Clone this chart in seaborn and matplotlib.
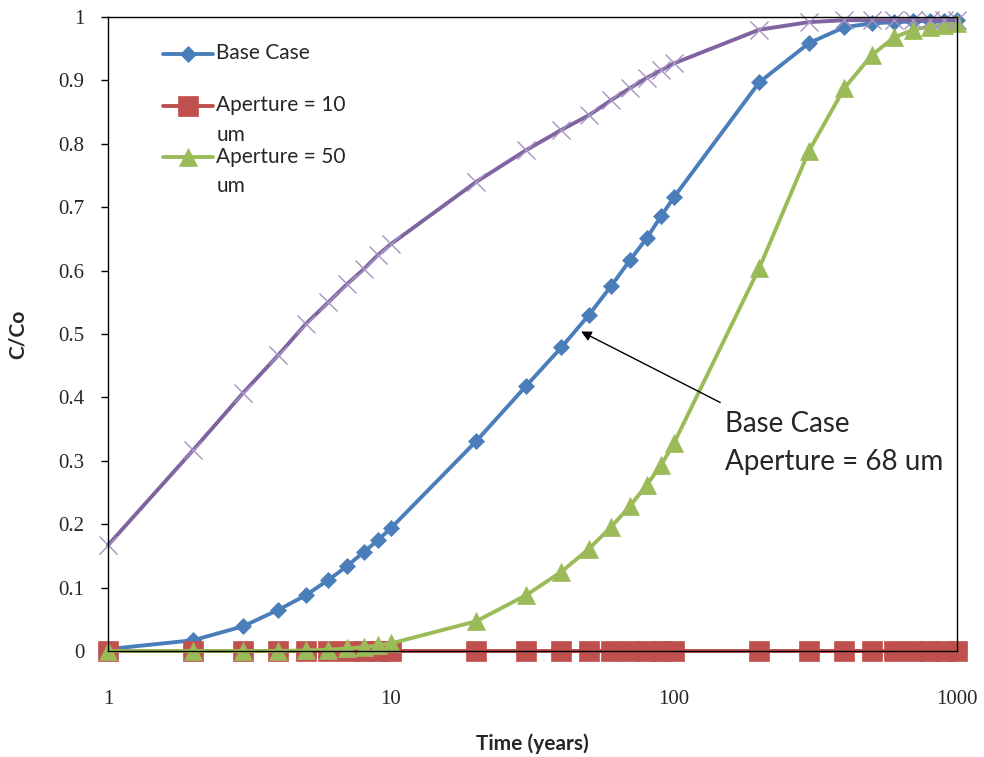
import numpy as np
import pandas as pd
import matplotlib
matplotlib.use("Agg")
import matplotlib.pyplot as plt
import matplotlib.transforms as mtransforms
from matplotlib.legend_handler import HandlerLine2D
import seaborn as sns

# time points (years)
time = [1, 2, 3, 4, 5, 6, 7, 8, 9, 10,
        20, 30, 40, 50, 60, 70, 80, 90, 100,
        200, 300, 400, 500, 600, 700, 800, 900, 1000]

base_case = [0.003, 0.017, 0.039, 0.065, 0.088, 0.112, 0.134, 0.156, 0.175, 0.194,
             0.331, 0.418, 0.479, 0.530, 0.576, 0.617, 0.651, 0.686, 0.716,
             0.897, 0.959, 0.984, 0.990, 0.992, 0.993, 0.994, 0.994, 0.995]
aperture_10 = [0.0] * 28
aperture_50 = [0.0, 0.0, 0.0, 0.0, 0.001, 0.002, 0.004, 0.006, 0.009, 0.012,
               0.047, 0.088, 0.125, 0.161, 0.196, 0.229, 0.262, 0.293, 0.328,
               0.604, 0.789, 0.888, 0.940, 0.968, 0.980, 0.985, 0.988, 0.990]
unlabeled = [0.167, 0.317, 0.407, 0.467, 0.516, 0.550, 0.579, 0.602, 0.625, 0.642,
             0.740, 0.790, 0.822, 0.845, 0.869, 0.888, 0.904, 0.916, 0.927,
             0.980, 0.992, 0.995, 0.995, 0.995, 0.995, 0.995, 0.995, 0.995]

# legend labels wrap like the original (second line kept even when blank)
series = [
    ("Base Case\n ", base_case, "#4A7EBB", "D", 8.5),
    ("Aperture = 10\num", aperture_10, "#C0504D", "s", 14),
    ("Aperture = 50\num", aperture_50, "#9BBB59", "^", 13),
]


class TopLineHandler(HandlerLine2D):
    # put the legend symbol next to the first text line instead of the middle
    def __init__(self, dy, **kw):
        super().__init__(**kw)
        self.dy = dy

    def create_artists(self, legend, orig_handle, xdescent, ydescent,
                       width, height, fontsize, trans):
        arts = super().create_artists(legend, orig_handle, xdescent, ydescent,
                                      width, height, fontsize, trans)
        for a in arts:
            a.set_transform(mtransforms.Affine2D().translate(0, self.dy) + trans)
        return arts


sns.set_style("white")
plt.rcParams["font.family"] = ["Lato", "DejaVu Sans"]

fig = plt.figure(figsize=(9.84, 7.57), dpi=100)
ax = fig.add_axes([0.1098, 0.14, 0.8628, 0.8375])

for name, vals, color, mk, ms in series:
    df = pd.DataFrame({"t": time, "c": vals})
    sns.lineplot(data=df, x="t", y="c", ax=ax, color=color, linewidth=2.8,
                 marker=mk, markersize=ms, markeredgecolor=color,
                 markeredgewidth=0.5, label=name, clip_on=False)

df = pd.DataFrame({"t": time, "c": unlabeled})
sns.lineplot(data=df, x="t", y="c", ax=ax, color="#8064A2", linewidth=2.8,
             marker="x", markersize=13, markeredgecolor="#A593C2",
             markeredgewidth=1.0, legend=False, clip_on=False)

ax.set_xscale("log")
ax.set_xlim(1, 1000)
ax.set_ylim(0, 1)
ax.set_xticks([1, 10, 100, 1000])
ax.set_xticklabels(["1", "10", "100", "1000"])
ax.minorticks_off()
ax.set_yticks(np.arange(0, 1.01, 0.1))
ax.set_yticklabels(["0", "0.1", "0.2", "0.3", "0.4", "0.5", "0.6", "0.7", "0.8", "0.9", "1"])
for lab in ax.get_xticklabels() + ax.get_yticklabels():
    lab.set_fontfamily("Liberation Serif")
    lab.set_fontsize(15)
ax.tick_params(axis="y", direction="out", length=5, width=1, color="black", pad=12, left=True)
ax.tick_params(axis="x", length=0, pad=28)

for s in ax.spines.values():
    s.set_color("black")
    s.set_linewidth(1)

ax.set_xlabel("Time (years)", fontsize=15, fontweight="bold", labelpad=18)
ax.set_ylabel("C/Co", fontsize=15, fontweight="bold", labelpad=22)

ax.annotate("", xy=(46, 0.506), xycoords="data",
            xytext=(0.724, 0.39), textcoords="axes fraction",
            arrowprops=dict(arrowstyle="-|>", color="black", lw=1, mutation_scale=15))
ax.text(0.727, 0.379, "Base Case\nAperture = 68 um", transform=ax.transAxes,
        fontsize=20, ha="left", va="top", linespacing=1.6)

handles, labels = ax.get_legend_handles_labels()
leg = ax.legend(handles, labels, loc="upper left", bbox_to_anchor=(0.043, 0.988),
                frameon=False, fontsize=15, handlelength=2.4, handletextpad=0.15,
                labelspacing=0.1,
                handler_map={h: TopLineHandler(10.7) for h in handles})
for txt in leg.get_texts():
    txt.set_linespacing(1.6)

fig.savefig("out.png", dpi=100)
